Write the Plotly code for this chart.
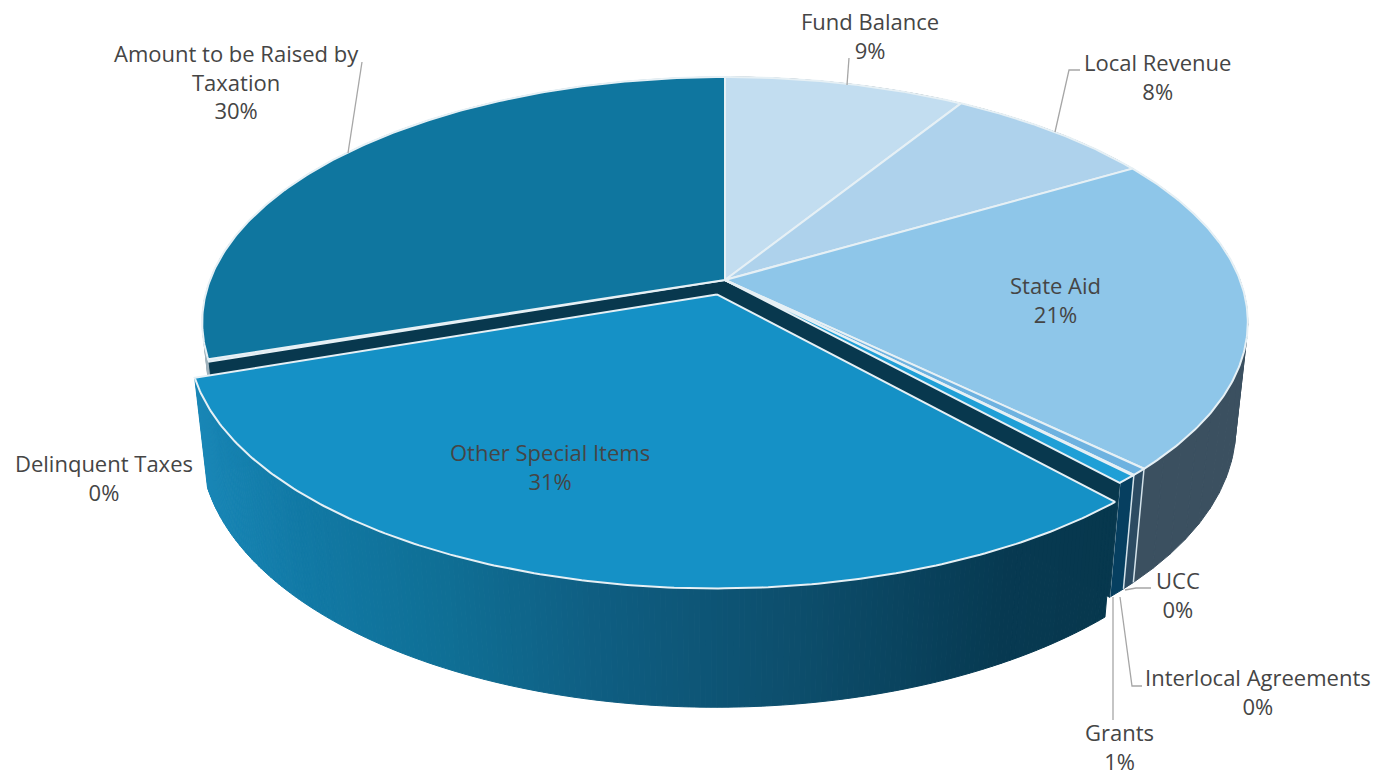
import numpy as np
import plotly.graph_objects as go

# ---- data (percent shares, clockwise from 12 o'clock)
categories = ["Fund Balance", "Local Revenue", "State Aid", "UCC", "Interlocal Agreements",
              "Grants", "Other Special Items", "Delinquent Taxes", "Amount to be Raised by<br>Taxation"]
values = [8.8, 7.7, 20.8, 0.45, 0.05, 0.55, 31.4, 0.15, 30.1]

# ---- styles
top_colors = ["#c2ddf0", "#aed2ec", "#8ec6e9", "#6db2e0", "#1f9fd6", "#1f9fd6", "#1591c6", "#b8d8ea", "#0f769f"]
wall_colors = ["#3b5060", "#3b5060", "#3b5060", "#2c4b62", "#063f60", "#063f60", "#0e6a90", "#c5d3da", "#9fb2bc"]
edge = "#e6f0f5"
cut_color = "#08384e"
other_grad_x = [190, 300, 450, 600, 800, 1000, 1110]
other_grad_c = [(26, 136, 184), (18, 122, 166), (15, 111, 149), (15, 94, 130), (13, 78, 108), (7, 58, 82), (7, 56, 78)]

# ---- perspective camera for the tilted disc
CX, CY = 725.0, 280.0
A, B, K = 515.0, 237.9, 0.172   # horizontal, vertical scale, depth foreshortening
H, M = 107.0, 0.023             # thickness and its shrink
EXPLODE = 0.062


def proj(X, Y, Z=0.0):
    w = 1 - K * np.asarray(Y) + M * Z
    return CX + A * np.asarray(X) / w, CY + (B * np.asarray(Y) + H * Z) / w


def rim(t0, t1, n=None, ox=0.0, oy=0.0):
    n = n or max(2, int(abs(t1 - t0) / 0.01) + 2)
    t = np.linspace(t0, t1, n)
    return np.sin(t) + ox, -np.cos(t) + oy


def poly(fig, x, y, fill, line=None, width=0.0):
    x = np.r_[x, x[0]]
    y = np.r_[y, y[0]]
    fig.add_trace(go.Scatter(x=x, y=y, mode="lines", fill="toself", fillcolor=fill,
                             line=dict(color=line or fill, width=width if line else 1.0),
                             hoverinfo="skip", showlegend=False))


def wall(fig, t0, t1, color, ox=0.0, oy=0.0):
    # split into short strips so the fold at the silhouette does not cancel the fill
    n = max(1, int(np.ceil((t1 - t0) / 0.06)))
    cuts = np.linspace(t0, t1, n + 1)
    for a, b in zip(cuts[:-1], cuts[1:]):
        X, Y = rim(a, b, ox=ox, oy=oy)
        x0, y0 = proj(X, Y, 0)
        x1, y1 = proj(X, Y, 1)
        poly(fig, np.r_[x0, x1[::-1]], np.r_[y0, y1[::-1]], color)


def top(fig, t0, t1, color, ox=0.0, oy=0.0):
    X, Y = rim(t0, t1, ox=ox, oy=oy)
    x, y = proj(np.r_[ox, X], np.r_[oy, Y], 0)
    poly(fig, x, y, color, line=edge, width=2.0)


def grad_color(px):
    rgb = [np.interp(px, other_grad_x, [c[i] for c in other_grad_c]) for i in range(3)]
    return "rgb(%d,%d,%d)" % tuple(rgb)


cum = np.r_[0, np.cumsum(values)] / sum(values) * 2 * np.pi
fig = go.Figure()
OTHER = 6

# main body walls
for i in range(len(values)):
    if i != OTHER:
        wall(fig, cum[i], cum[i + 1], wall_colors[i])
# thin light edges on the narrow wall pieces
for i in (2, 3, 5):
    xa, ya = proj(*rim(cum[i + 1], cum[i + 1], 2), 0)
    xb, yb = proj(*rim(cum[i + 1], cum[i + 1], 2), 1)
    fig.add_trace(go.Scatter(x=[xa[0], xb[0]], y=[ya[0], yb[0]], mode="lines",
                             line=dict(color="#d5e3ea", width=1.5), hoverinfo="skip", showlegend=False))

# cut faces of the gap left by the pulled-out slice
for t in (cum[OTHER], cum[OTHER + 1]):
    X, Y = np.sin(t), -np.cos(t)
    xs, ys = proj(np.array([0, X]), np.array([0, Y]), 0)
    xe, ye = proj(np.array([0, X]), np.array([0, Y]), 1)
    poly(fig, np.r_[xs, xe[::-1]], np.r_[ys, ye[::-1]], cut_color)

# main body top faces
for i in range(len(values)):
    if i != OTHER:
        top(fig, cum[i], cum[i + 1], top_colors[i])

# pulled-out slice
mid = (cum[OTHER] + cum[OTHER + 1]) / 2
ox, oy = EXPLODE * np.sin(mid), -EXPLODE * np.cos(mid)
edges = np.linspace(cum[OTHER], cum[OTHER + 1], 220)
for a, b in zip(edges[:-1], edges[1:]):
    px, _ = proj(np.sin((a + b) / 2) + ox, -np.cos((a + b) / 2) + oy, 0.5)
    wall(fig, a, b, grad_color(float(px)), ox, oy)
top(fig, cum[OTHER], cum[OTHER + 1], top_colors[OTHER], ox, oy)

# labels
label_xy = [(870, 35), (1157, 76), (1055, 299), (1178, 594), (1258, 691),
            (1119, 746), (550, 466), (104, 477), (236, 81)]
for name, v, (lx, ly) in zip(categories, values, label_xy):
    fig.add_annotation(x=lx, y=ly, text=f"{name}<br>{round(v)}%", showarrow=False, align="center",
                       xanchor="center", yanchor="middle",
                       font=dict(family="Open Sans, Lato, sans-serif", size=22, color="#454545"))

leaders = [
    [(847, 85), (849, 58)],
    [(1055, 132), (1069, 70), (1080, 70)],
    [(348, 153), (362, 62)],
    [(1125, 590), (1136, 588), (1151, 588)],
    [(1120, 597), (1132, 686), (1142, 686)],
    [(1113, 597), (1113, 720)],
]
for pts in leaders:
    fig.add_trace(go.Scatter(x=[p[0] for p in pts], y=[p[1] for p in pts], mode="lines",
                             line=dict(color="#a6a6a6", width=1.3), hoverinfo="skip", showlegend=False))

fig.update_layout(
    width=1378, height=777, margin=dict(l=0, r=0, t=0, b=0),
    paper_bgcolor="white", plot_bgcolor="white", showlegend=False,
    xaxis=dict(range=[0, 1378], visible=False, fixedrange=True),
    yaxis=dict(range=[777, 0], visible=False, fixedrange=True),
)
fig.write_html("out.html", config={"displayModeBar": False},
               post_script="document.body.style.margin='0';document.documentElement.style.overflow='hidden';")
